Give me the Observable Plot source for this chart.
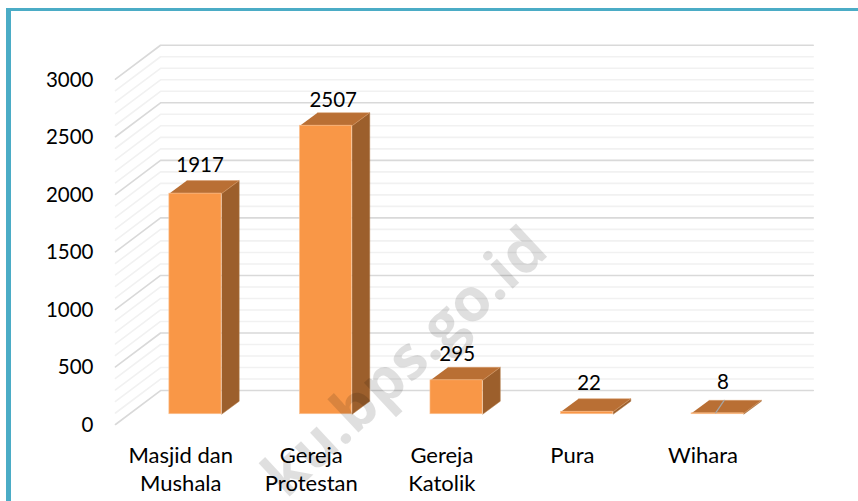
<!DOCTYPE html>
<html>
<head>
<meta charset="utf-8">
<script src="https://cdn.jsdelivr.net/npm/d3@7"></script>
<script src="https://cdn.jsdelivr.net/npm/@observablehq/plot@0.6"></script>
<style>
html,body{margin:0;padding:0;background:#fff;width:858px;height:501px;overflow:hidden}
#frame{position:absolute;left:6px;top:8px;right:0;bottom:0;border-left:5px solid #4BACC6;border-top:3px solid #4BACC6}
#chart{position:absolute;left:0;top:0}
#chart svg{background:none;overflow:visible}
</style>
</head>
<body>
<div id="frame"></div>
<div id="chart"></div>
<script>
const categories = ["Masjid dan\nMushala", "Gereja\nProtestan", "Gereja\nKatolik", "Pura", "Wihara"];
const values = [1917, 2507, 295, 22, 8];
const yTicks = [0, 500, 1000, 1500, 2000, 2500, 3000];
const minorTicks = d3.range(0, 3001, 100);
const watermark = "ku.bps.go.id";

// Oblique projection, expressed in data units (x: category slots, y: value)
const wallDx = 0.345, wallDy = 295;
const barHalf = 0.2, barShift = 0.1126, barDepthX = 0.135;
const barFrontDy = 89, barBackDy = 202;
const labelNudge = [0.035, 0.055, 0.005, 0.015, 0.04];
const labelLift = [17, -9, 0, 22, 43];

const idx = categories.map((_, i) => i);
const fx = i => i + 0.5 + barShift - barHalf;
const bx = i => i + 0.5 + barShift + barHalf;

const grid = v => [{g: v, x: 0, y: v}, {g: v, x: wallDx, y: v + wallDy}, {g: v, x: 5 + wallDx, y: v + wallDy}];
const wallLine = tick => tick.flatMap(grid);

const sideFace = idx.flatMap(i => [
  [bx(i), barFrontDy], [bx(i) + barDepthX, barBackDy],
  [bx(i) + barDepthX, barBackDy + values[i]], [bx(i), barFrontDy + values[i]]
].map(([x, y]) => ({i, x, y})));

const topFace = idx.flatMap(i => [
  [fx(i), barFrontDy], [bx(i), barFrontDy],
  [bx(i) + barDepthX, barBackDy], [fx(i) + barDepthX, barBackDy]
].map(([x, y]) => ({i, x, y: y + values[i]})));

const frontFace = idx.map(i => ({x1: fx(i), x2: bx(i), y1: barFrontDy, y2: barFrontDy + values[i]}));

const leader = [
  {x: 4 + 0.5 + barShift + 0.035 - 0.05, y: barFrontDy + values[4] + 4},
  {x: 4 + 0.5 + barShift + 0.035 + 0.015, y: barBackDy + values[4]}
];

const digitStyle = {fontFamily: "Lato, Carlito, sans-serif", fontSize: 20.5, fill: "#000"};
const wordStyle = {fontFamily: "Lato, Carlito, sans-serif", fontSize: 22, fill: "#000"};

const chart = Plot.plot({
  width: 858, height: 501,
  marginLeft: 115, marginRight: 90.3, marginTop: 78.7, marginBottom: 77,
  style: {background: "none", fontFamily: "Lato, sans-serif", color: "#000"},
  x: {domain: [0, 5], axis: null},
  y: {domain: [0, 3000], axis: null},
  marks: [
    Plot.line(wallLine(minorTicks.filter(v => v % 500)), {x: "x", y: "y", z: "g", stroke: "#f1f1f1", strokeWidth: 1.6}),
    Plot.line(wallLine(yTicks), {x: "x", y: "y", z: "g", stroke: "#d9d9d9", strokeWidth: 1.6}),
    Plot.axisY({ticks: yTicks, tickSize: 0, tickPadding: 22, tickFormat: d => String(d), label: null, dy: 0.8, ...digitStyle}),
    Plot.axisX({ticks: idx.map(i => i + 0.5), tickFormat: d => categories[d - 0.5], tickSize: 0, tickPadding: 18, label: null, lineHeight: 1.29, ...wordStyle}),
    Plot.line(sideFace, {x: "x", y: "y", z: "i", fill: "#9C5F2C", stroke: "#B37A47", strokeWidth: 0.5}),
    Plot.line(topFace, {x: "x", y: "y", z: "i", fill: "#B96F34", stroke: "#D79A68", strokeWidth: 0.5}),
    Plot.rect(frontFace, {x1: "x1", x2: "x2", y1: "y1", y2: "y2", fill: "#F99747", stroke: "#FBC598", strokeWidth: 0.6}),
    Plot.line(leader, {x: "x", y: "y", stroke: "#A6A6A6", strokeWidth: 1.2}),
    Plot.text(idx, {x: i => i + 0.5 + barShift + labelNudge[i], y: i => barFrontDy + values[i] + labelLift[i], text: i => String(values[i]), dy: -26, ...digitStyle}),
    Plot.text([watermark], {x: [2.22], y: [538], text: d => d, rotate: -43, fontFamily: "Open Sans, sans-serif", fontWeight: 700, fontSize: 60, fill: "#000", fillOpacity: 0.125})
  ]
});
document.getElementById("chart").appendChild(chart);
</script>
</body>
</html>
